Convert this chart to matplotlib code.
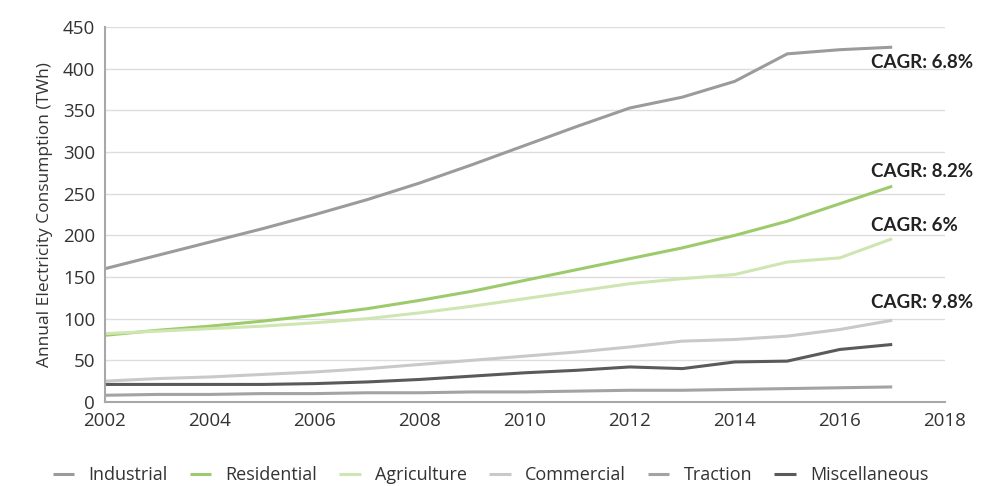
import matplotlib
matplotlib.use("Agg")
import matplotlib.pyplot as plt

years = list(range(2002, 2018))
industrial = [160, 176, 192, 208, 225, 243, 263, 285, 308, 331, 353, 366, 385, 418, 423, 426]
residential = [80, 86, 91, 97, 104, 112, 122, 133, 146, 159, 172, 185, 200, 217, 238, 259]
agriculture = [82, 85, 88, 91, 95, 100, 107, 115, 124, 133, 142, 148, 153, 168, 173, 196]
commercial = [25, 28, 30, 33, 36, 40, 45, 50, 55, 60, 66, 73, 75, 79, 87, 98]
traction = [8, 9, 9, 10, 10, 11, 11, 12, 12, 13, 14, 14, 15, 16, 17, 18]
misc = [21, 21, 21, 21, 22, 24, 27, 31, 35, 38, 42, 40, 48, 49, 63, 69]

series_names = ["Industrial", "Residential", "Agriculture", "Commercial", "Traction", "Miscellaneous"]
series_values = [industrial, residential, agriculture, commercial, traction, misc]
colors = ["#9b9b9d", "#9dcb6c", "#cfe5b2", "#c9c9cb", "#a3a3a5", "#5a5a5c"]

cagr_labels = ["CAGR: 6.8%", "CAGR: 8.2%", "CAGR: 6%", "CAGR: 9.8%"]
cagr_y = [408, 277, 212, 120]

xticks = list(range(2002, 2019, 2))
yticks = list(range(0, 451, 50))

plt.rcParams['font.family'] = ['Open Sans', 'DejaVu Sans']

fig = plt.figure(figsize=(9.81, 4.86), dpi=100)
ax = fig.add_axes([0.107, 0.173, 0.856, 0.771])

for name, vals, c in zip(series_names, series_values, colors):
    ax.plot(years, vals, color=c, lw=2.2, label=name, solid_capstyle='butt')

ax.set_xlim(2002, 2018)
ax.set_ylim(0, 450)
ax.set_xticks(xticks)
ax.set_yticks(yticks)
ax.tick_params(length=0, labelsize=13.5, colors="#333333", pad=7)
ax.grid(axis='y', color="#dddddd", lw=1)
ax.set_axisbelow(True)
for s in ["top", "right"]:
    ax.spines[s].set_visible(False)
for s in ["left", "bottom"]:
    ax.spines[s].set_color("#a8a8ac")
    ax.spines[s].set_linewidth(1.5)

ax.set_ylabel("Annual Electricity Consumption (TWh)", fontsize=12.5, color="#333333", labelpad=7)

for lab, y in zip(cagr_labels, cagr_y):
    ax.text(2016.6, y, lab, fontsize=13.5, fontweight='bold', family=['Lato', 'DejaVu Sans'],
            color="#222222", va='center', ha='left', clip_on=False)

fig.legend(loc='center', bbox_to_anchor=(0.5, 0.022), ncol=6, frameon=False, fontsize=13,
           handlelength=1.2, columnspacing=1.2, handletextpad=0.8, labelcolor="#333333")

fig.savefig("out.png", dpi=100)
